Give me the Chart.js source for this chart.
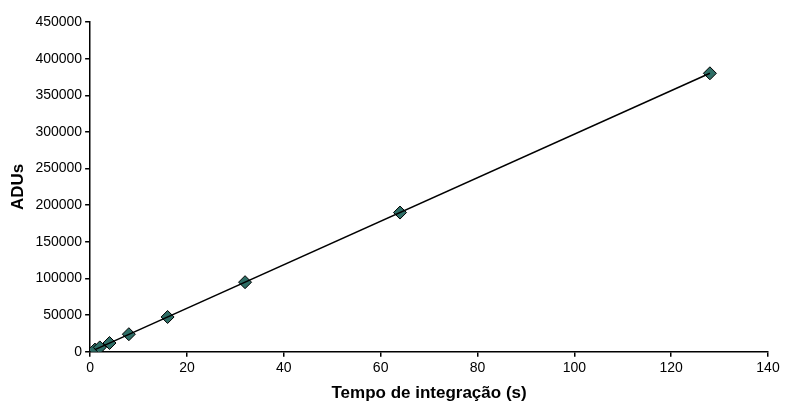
<!DOCTYPE html>
<html><head><meta charset="utf-8">
<script src="https://cdn.jsdelivr.net/npm/chart.js@4"></script>
<style>body{margin:0;background:#fff}#w{width:798px;height:416px}</style>
</head><body><div id="w"><canvas id="c"></canvas></div>
<script>
const tempos = [1, 2, 4, 8, 16, 32, 64, 128];
const adus = [3000, 6000, 12000, 24000, 47500, 95000, 190000, 380000];
const fitX = [1, 128];
const fitY = [3000, 380000];

const pts = tempos.map((t, i) => ({x: t, y: adus[i]}));
const fit = fitX.map((t, i) => ({x: t, y: fitY[i]}));
const font = {family: 'Liberation Sans, Arial', size: 14};
const tickGrid = {display: true, drawOnChartArea: false, drawTicks: true, tickLength: 5, color: '#000', lineWidth: 1.5};

new Chart(document.getElementById('c'), {
  type: 'scatter',
  data: {datasets: [
    {data: fit, showLine: true, borderColor: '#000', borderWidth: 1.5, pointRadius: 0},
    {data: pts, pointStyle: 'rectRot', pointRadius: 6.5, backgroundColor: '#2e6e66', borderColor: '#000', borderWidth: 1}
  ]},
  options: {
    responsive: true, maintainAspectRatio: false, animation: false,
    layout: {padding: {top: 22, right: 30, left: 4, bottom: 8}},
    plugins: {legend: {display: false}, tooltip: {enabled: false}},
    scales: {
      x: {min: 0, max: 140, ticks: {stepSize: 20, color: '#000', font},
          grid: tickGrid, border: {color: '#000', width: 1.5},
          title: {display: true, text: 'Tempo de integração (s)', color: '#000', font: {...font, size: 17, weight: 'bold'}}},
      y: {min: 0, max: 450000, ticks: {stepSize: 50000, color: '#000', font, callback: v => String(v)},
          grid: tickGrid, border: {color: '#000', width: 1.5},
          title: {display: true, text: 'ADUs', color: '#000', font: {...font, size: 17, weight: 'bold'}}}
    }
  }
});
</script></body></html>
